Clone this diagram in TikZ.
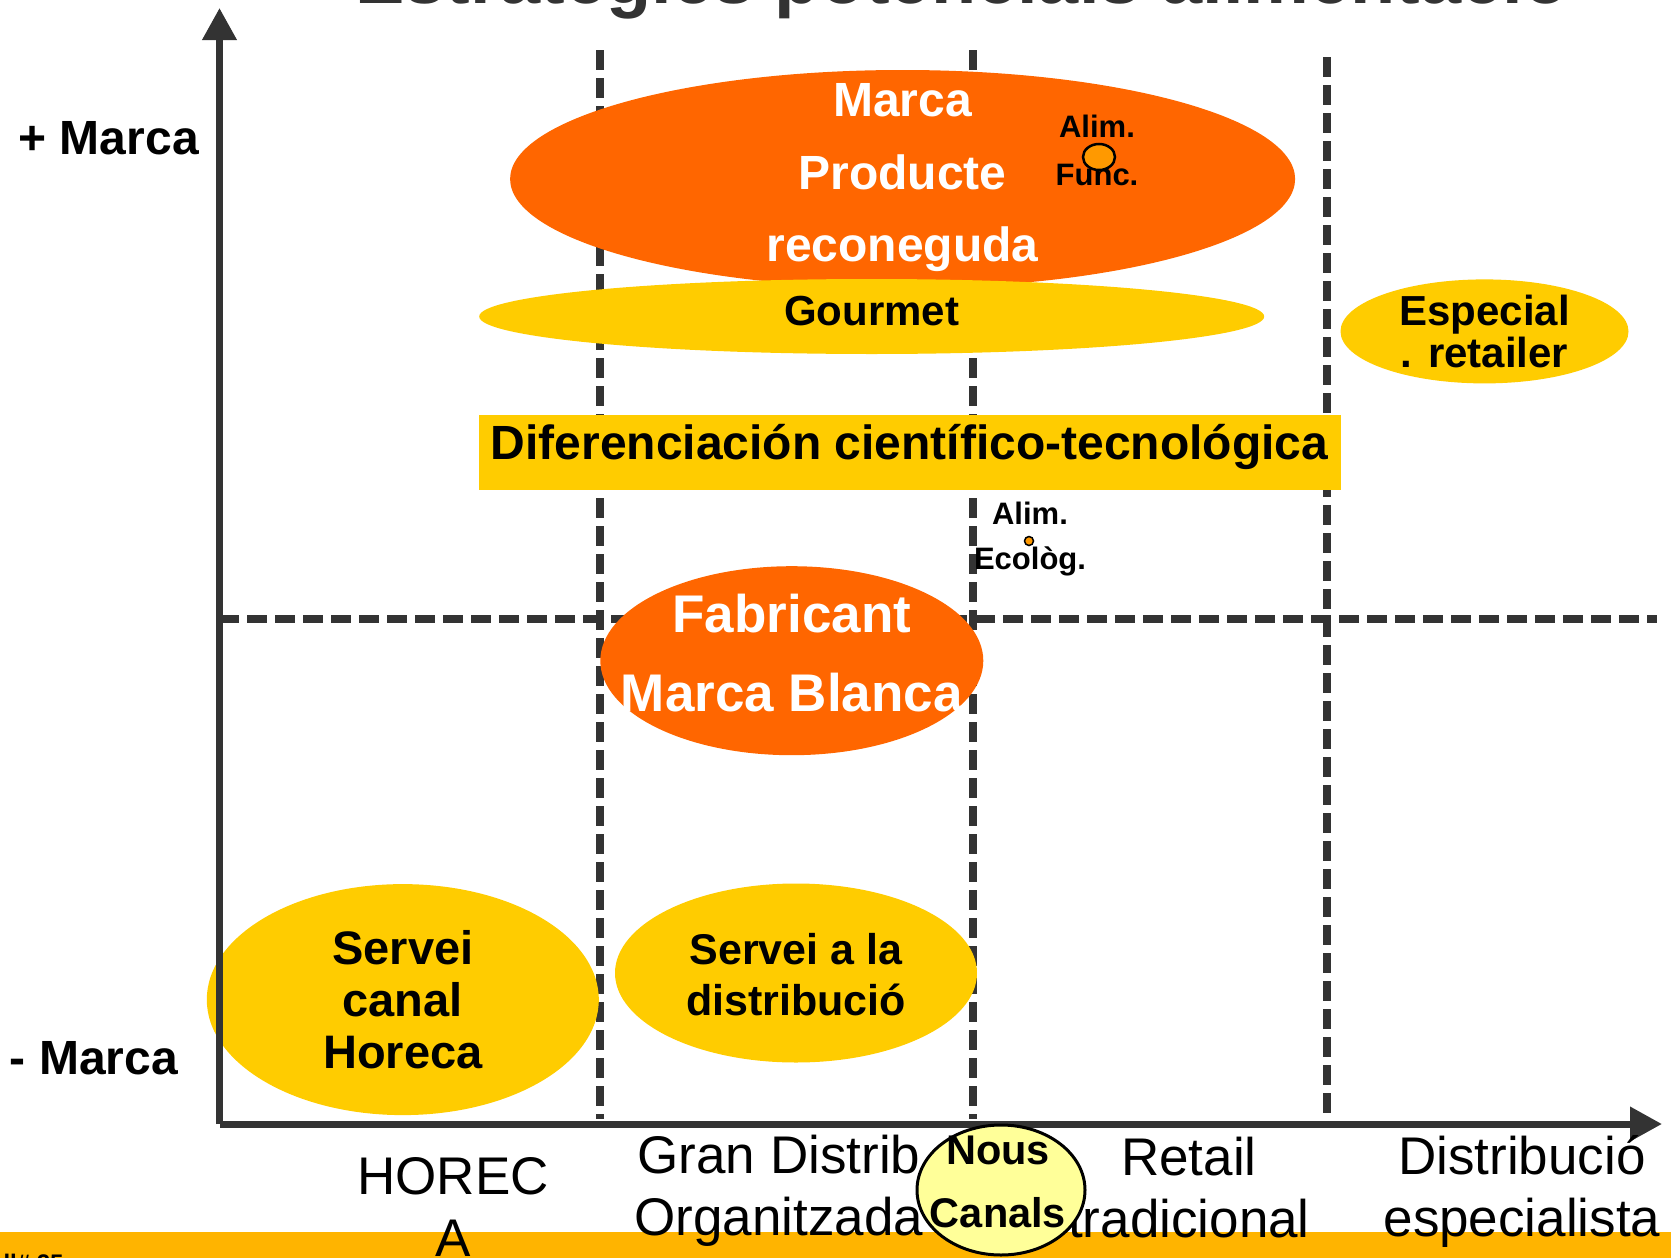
\documentclass[tikz,border=0pt]{standalone}
\usepackage{fontspec}
\setmainfont{Liberation Sans}
\usetikzlibrary{shapes.geometric,arrows.meta}
\definecolor{orangeM}{HTML}{FF6600}
\definecolor{yellowM}{HTML}{FFCC00}
\definecolor{paleY}{HTML}{FFFF99}
\definecolor{barY}{HTML}{FFB400}
\definecolor{dotO}{HTML}{FF9900}
\definecolor{axisG}{HTML}{333333}
\begin{document}
\begin{tikzpicture}[x=1pt, y=-1pt,
  blob/.style={ellipse, inner sep=0pt},
  lbl/.style={align=center, inner sep=0pt, font=\bfseries\fontsize{#1}{#1}\selectfont},
  chan/.style={align=center, inner sep=0pt, font=\fontsize{53}{62}\selectfont},
  gridline/.style={axisG, line width=8pt, dash pattern=on 20pt off 8pt},
  axis/.style={axisG, line width=7pt, -{Triangle[width=33pt, length=32pt]}}]
\useasboundingbox (0,0) rectangle (1671,1258);
\fill[barY] (0,1232) rectangle (1671,1258);
\node[anchor=base, text=axisG, font=\bfseries\fontsize{74}{80}\selectfont] (title) at (962,4) {Estratègies potencials alimentació};
\node[anchor=base west, font=\bfseries\fontsize{24}{24}\selectfont] (page) at (0,1271) {ll\# 25};

\draw[gridline] (600,50) -- (600,1119);
\draw[gridline] (973,50) -- (973,1119);
\draw[gridline] (1327,57) -- (1327,1119);
\draw[gridline] (219,619) -- (1657,619);

\node[blob, fill=orangeM, minimum width=785pt, minimum height=218pt] (marcaE) at (902.6,179) {};
\node[blob, fill=yellowM, minimum width=785pt, minimum height=75pt] (gourmetE) at (871.7,316.5) {};
\node[blob, fill=yellowM, minimum width=288pt, minimum height=104pt] (retailerE) at (1484.5,331.4) {};
\node[rectangle, inner sep=0pt, fill=yellowM, minimum width=862pt, minimum height=75.6pt] (difE) at (909.5,452.4) {};
\node[blob, fill=orangeM, minimum width=383pt, minimum height=189pt] (fabE) at (791.8,660.7) {};
\node[blob, fill=yellowM, minimum width=392pt, minimum height=231pt] (horecaE) at (402.8,999.6) {};
\node[blob, fill=yellowM, minimum width=362pt, minimum height=179pt] (distE) at (796,973) {};

\draw[axis] (219.5,1124) -- (219.5,8);
\draw[axis] (219.5,1124) -- (1662,1124);

\node[lbl={48}, text=white, font=\bfseries\fontsize{48}{72.5}\selectfont] (marca) at (902.6,178) {Marca\\Producte\\reconeguda};
\node[lbl={42}] (gourmet) at (871.7,311) {Gourmet};
\node[lbl={42}, font=\bfseries\fontsize{42}{42}\selectfont] (retailer) at (1484.5,331) {Especial\\. retailer};
\node[lbl={48}] (dif) at (909.5,447) {Diferenciación científico-tecnológica};
\node[lbl={53}, text=white, font=\bfseries\fontsize{53}{79}\selectfont] (fab) at (791.8,653) {Fabricant\\Marca Blanca};
\node[lbl={47}, font=\bfseries\fontsize{47}{52}\selectfont] (horeca) at (402.8,999.7) {Servei\\canal\\Horeca};
\node[lbl={43}, font=\bfseries\fontsize{43}{51}\selectfont] (dist) at (796,975) {Servei a la\\distribució};
\node[lbl={31}, font=\bfseries\fontsize{31}{48}\selectfont] (func) at (1097,150) {Alim.\\Func.};
\node[blob, draw=black, line width=2.5pt, fill=dotO, minimum width=32pt, minimum height=26pt] (funcDot) at (1099,157) {};
\node[lbl={31}, font=\bfseries\fontsize{31}{45}\selectfont] (eco) at (1030,538.6) {Alim.\\Ecològ.};
\node[blob, draw=black, line width=1.5pt, fill=dotO, minimum size=9pt] (ecoDot) at (1029,541) {};

\node[lbl={48}] (plus) at (108.7,138.5) {+ Marca};
\node[lbl={48}] (minus) at (93.8,1058) {- Marca};

\node[chan] (horecaC) at (453,1206.5) {HOREC\\A};
\node[chan] (granC) at (779,1191) {Gran Distrib\\Organitzada};
\node[chan] (retailC) at (1189,1188) {Retail\\tradicional};
\node[chan] (especC) at (1522,1191) {Distribució\\especialista};

\node[blob, draw=black, line width=3pt, fill=paleY, minimum width=168pt, minimum height=130pt] (nousE) at (1001,1190) {};
\node[lbl={41.5}, font=\bfseries\fontsize{41.5}{63}\selectfont] (nous) at (998,1181.7) {Nous\\Canals};
\end{tikzpicture}
\end{document}
